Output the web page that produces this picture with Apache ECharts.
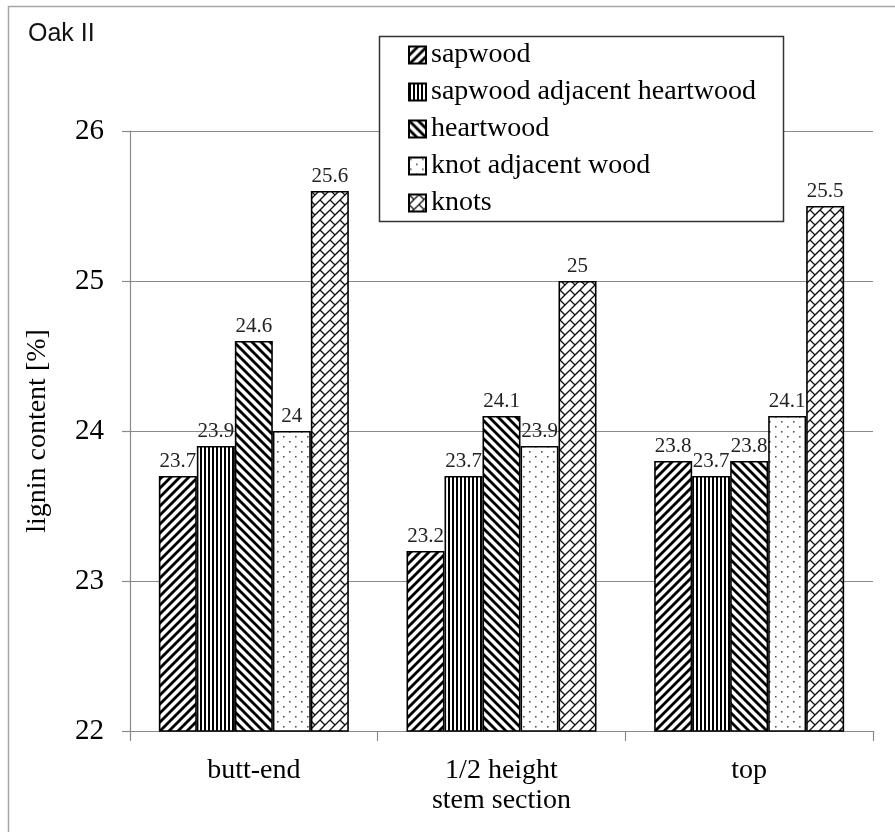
<!DOCTYPE html>
<html>
<head>
<meta charset="utf-8">
<script src="https://cdn.jsdelivr.net/npm/echarts@6/dist/echarts.min.js"></script>
<style>
  html, body { margin: 0; padding: 0; background: #fff; }
  #chart { width: 895px; height: 832px; }
</style>
</head>
<body>
<div id="chart"></div>
<script>
// Stem sections along the x axis
const categories = ['butt-end', '1/2 height\nstem section', 'top'];
// Lignin content [%] per wood zone
const sapwood = [23.7, 23.2, 23.8];
const sapwoodAdjacentHeartwood = [23.9, 23.7, 23.7];
const heartwood = [24.6, 24.1, 23.8];
const knotAdjacentWood = [24.0, 23.9, 24.1];
const knots = [25.6, 25.0, 25.5];
const seriesNames = ['sapwood', 'sapwood adjacent heartwood', 'heartwood', 'knot adjacent wood', 'knots'];
const yTicks = { min: 22, max: 26, step: 1 };

// ---- hatch fills drawn on small tiles ----
function tile(w, h, draw) {
  const c = document.createElement('canvas');
  c.width = w; c.height = h;
  const g = c.getContext('2d');
  g.fillStyle = '#fff';
  g.fillRect(0, 0, w, h);
  draw(g, w, h);
  return { image: c, repeat: 'repeat' };
}
function diagonal(up, P, lw) {
  return tile(P, P, (g) => {
    g.strokeStyle = '#000';
    g.lineWidth = lw;
    for (let k = -2; k <= 3; k++) {
      g.beginPath();
      if (up) { // "/" lines: x + y = kP
        g.moveTo(k * P + 2 * P, -2 * P);
        g.lineTo(k * P - 2 * P, 2 * P);
      } else {  // "\" lines: x - y = kP
        g.moveTo(k * P - 2 * P, -2 * P);
        g.lineTo(k * P + 2 * P, 2 * P);
      }
      g.stroke();
    }
  });
}
const fillSap = diagonal(true, 9, 2.8);
const fillSapAdj = tile(4, 4, (g) => {
  g.fillStyle = '#000';
  g.fillRect(0, 0, 2, 4);
});
const fillHeart = diagonal(false, 9, 2.8);
const fillDots = tile(12, 10, (g) => {
  g.fillStyle = '#555';
  g.fillRect(1, 1, 1.6, 1.6);
  g.fillRect(7, 6, 1.6, 1.6);
});
// diagonal brick: long "/" courses with staggered "\" joints
const fillKnots = (function () {
  const P = 10, Q = 20, S = 20;
  return tile(S, S, (g) => {
    g.strokeStyle = '#111';
    g.lineWidth = 1.3;
    for (let k = -8; k <= 8; k++) {
      const c1 = k * P, c2 = (k + 1) * P;
      g.beginPath();
      g.moveTo(c1 + 60, -60);
      g.lineTo(c1 - 60, 60);
      g.stroke();
      const off = (Math.abs(k) % 2) * (Q / 2);
      for (let d = -80 + off; d <= 80; d += Q) {
        g.beginPath();
        g.moveTo((c1 + d) / 2, (c1 - d) / 2);
        g.lineTo((c2 + d) / 2, (c2 - d) / 2);
        g.stroke();
      }
    }
  });
})();

const fills = [fillSap, fillSapAdj, fillHeart, fillDots, fillKnots];
const values = [sapwood, sapwoodAdjacentHeartwood, heartwood, knotAdjacentWood, knots];

const serif = '"Liberation Serif", "Times New Roman", serif';
const axisGray = '#8a8a8a';

const chart = echarts.init(document.getElementById('chart'), null, { renderer: 'canvas' });
chart.setOption({
  animation: false,
  backgroundColor: '#fff',
  title: {
    text: 'Oak II',
    left: 28,
    top: 22,
    padding: 0,
    textStyle: { fontFamily: '"Liberation Sans", Arial, sans-serif', fontSize: 25, fontWeight: 'normal', color: '#111' }
  },
  graphic: [
    { type: 'rect', z: 1, silent: true,
      shape: { x: 8.5, y: 6.5, width: 1000, height: 1000 },
      style: { fill: null, stroke: '#a6a6a6', lineWidth: 1.5 } },
    { type: 'rect', z: 3, silent: true,
      shape: { x: 379.5, y: 36.5, width: 404, height: 185 },
      style: { fill: '#fff', stroke: '#333', lineWidth: 1.5 } }
  ],
  legend: {
    z: 5,
    orient: 'vertical',
    left: 408,
    top: 41,
    padding: 0,
    itemWidth: 17,
    itemHeight: 17,
    itemGap: 9,
    icon: 'rect',
    selectedMode: false,
    data: seriesNames,
    textStyle: { fontFamily: serif, fontSize: 28, lineHeight: 28, color: '#000' }
  },
  grid: { left: 130, right: 22, top: 131, bottom: 101, containLabel: false, outerBoundsMode: 'none' },
  xAxis: {
    type: 'category',
    data: categories,
    axisLine: { lineStyle: { color: axisGray, width: 1.2 } },
    axisTick: { show: true, length: 10, interval: 0, alignWithLabel: false, lineStyle: { color: axisGray, width: 1.2 } },
    axisLabel: { interval: 0, margin: 25, fontFamily: serif, fontSize: 28, lineHeight: 30, color: '#000' },
    splitLine: { show: false }
  },
  yAxis: {
    type: 'value',
    min: yTicks.min,
    max: yTicks.max,
    interval: yTicks.step,
    name: 'lignin content [%]',
    nameLocation: 'middle',
    nameGap: 78,
    nameTextStyle: { fontFamily: serif, fontSize: 28, color: '#000' },
    axisLine: { show: true, lineStyle: { color: axisGray, width: 1.2 } },
    axisTick: { show: true, length: 8, lineStyle: { color: axisGray, width: 1.2 } },
    axisLabel: { margin: 26, fontFamily: serif, fontSize: 29, color: '#000' },
    splitLine: { show: true, lineStyle: { color: axisGray, width: 1.2 } }
  },
  series: seriesNames.map((name, i) => ({
    name: name,
    type: 'bar',
    data: values[i],
    barWidth: 38,
    barGap: '0%',
    itemStyle: { color: fills[i], borderColor: '#000', borderWidth: 1.6 },
    label: {
      show: true,
      position: 'top',
      distance: 4,
      fontFamily: serif,
      fontSize: 21,
      color: '#222'
    },
    emphasis: { disabled: true }
  }))
});
</script>
</body>
</html>
